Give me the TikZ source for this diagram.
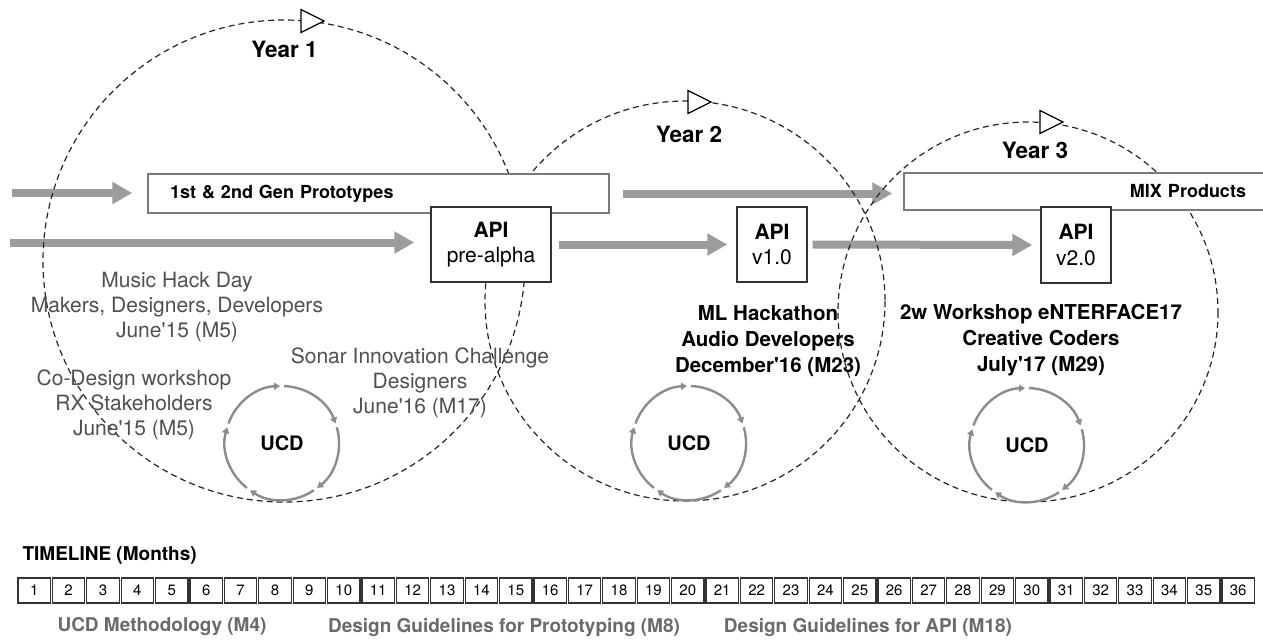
\documentclass[tikz,border=0pt]{standalone}
\usepackage{fontspec}
\setmainfont{TeX Gyre Heros}
\usetikzlibrary{arrows.meta}
\definecolor{arrowgray}{HTML}{9C9C9C}
\definecolor{ringgray}{HTML}{8C8C8C}
\definecolor{txtgray}{HTML}{505050}
\definecolor{lblgray}{HTML}{6A6A6A}
\definecolor{boxgray}{HTML}{7A7A7A}
\tikzset{
  dcirc/.style={draw=black!85, line width=1.2pt, dash pattern=on 6pt off 4pt},
  bigarrow/.style={draw=arrowgray, line width=8pt, -{Triangle[length=20pt,width=21pt]}},
  probox/.style={draw=boxgray, fill=white, line width=1.3pt, inner ysep=0pt, minimum height=39pt, font=\bfseries\fontsize{18}{21}\selectfont},
  apibox/.style={draw=black!80, fill=white, line width=1.4pt, align=center, inner sep=0pt, minimum height=75pt, font=\fontsize{21}{25.5}\selectfont},
  tbox/.style={draw=black!80, line width=1.2pt, minimum width=32.4pt, minimum height=25pt, inner sep=0pt, font=\fontsize{15}{18}\selectfont},
  yearlbl/.style={font=\bfseries\fontsize{22.5}{26}\selectfont},
  eventgray/.style={text=txtgray, align=center, font=\fontsize{21}{25}\selectfont},
  eventbold/.style={align=center, font=\bfseries\fontsize{20.5}{26}\selectfont},
  deliv/.style={text=lblgray, font=\bfseries\fontsize{19}{22}\selectfont},
  ucdtext/.style={font=\bfseries\fontsize{20}{24}\selectfont},
  ucdarc/.style={draw=ringgray, line width=2.4pt, -{Triangle[length=6pt,width=7pt]}},
  cyclehead/.pic={\draw[fill=white, line width=1.2pt] (0,-11.5) -- (23,0) -- (0,11.5) -- cycle;}
}
\begin{document}
\begin{tikzpicture}[x=1pt,y=-1pt]
\useasboundingbox (0,0) rectangle (1263,641);
\clip (0,0) rectangle (1263,641);
\fill[white] (0,0) rectangle (1263,641);

\coordinate (a1s) at (12,193);
\coordinate (a2s) at (10,242.5);

% invisible placeholders so arrows can be drawn beneath circles and boxes
\node[probox, text width=417pt, align=left, inner xsep=22pt, draw=none, fill=none] (gen) at (378.5,193.5) {\phantom{X}};
\node[apibox, minimum width=120pt, draw=none, fill=none] (api1) at (491,244.5) {\phantom{X}};
\node[apibox, minimum width=70pt, draw=none, fill=none] (api2) at (772,244.5) {\phantom{X}};
\node[apibox, minimum width=70pt, minimum height=76pt, draw=none, fill=none] (api3) at (1076,245) {\phantom{X}};
\node[probox, text width=313pt, align=right, inner xsep=29pt, minimum height=37pt, draw=none, fill=none] (mix) at (1089.5,191.5) {\phantom{X}};

\draw[bigarrow, shorten >=15pt] (a1s) -- (a1s -| gen.west);
\draw[bigarrow, shorten >=16pt] (a2s) -- (a2s -| api1.west);
\draw[bigarrow, shorten <=7pt, shorten >=9pt] (api1.east) -- (api2.west);
\draw[bigarrow, shorten <=5pt, shorten >=8pt] (api2.east) -- (api3.west);
\draw[bigarrow, shorten <=13pt, shorten >=11pt] (gen.east) -- (gen.east -| mix.west);

% year cycles
\draw[dcirc] (284,261) circle[radius=241];
\draw[dcirc] (685,301) circle[radius=200];
\draw[dcirc] (1028,312) circle[radius=190];
\pic at (301,21) {cyclehead};
\pic at (688,102) {cyclehead};
\pic at (1040,122) {cyclehead};

\node[yearlbl] (y1) at (284.5,49) {Year 1};
\node[yearlbl] (y2) at (689,134) {Year 2};
\node[yearlbl] (y3) at (1035,150) {Year 3};

% real boxes
\node[probox, text width=417pt, align=left, inner xsep=22pt] at (gen.center) {1st \& 2nd Gen Prototypes};
\node[probox, text width=313pt, align=right, inner xsep=29pt, minimum height=37pt] at (mix.center) {MIX Products};
\node[apibox, minimum width=120pt] at (api1.center) {\textbf{API}\\pre-alpha};
\node[apibox, minimum width=70pt] at (api2.center) {\textbf{API}\\v1.0};
\node[apibox, minimum width=70pt, minimum height=76pt] at (api3.center) {\textbf{API}\\v2.0};

% events
\node[eventgray] (mhd) at (177,307) {Music Hack Day\\Makers, Designers, Developers\\June\textquotesingle15 (M5)};
\node[eventgray] (cod) at (134,405) {Co-Design workshop\\RX Stakeholders\\June\textquotesingle15 (M5)};
\node[eventgray] (son) at (420,383) {Sonar Innovation Challenge\\Designers\\June\textquotesingle16 (M17)};
\node[eventbold] (mlh) at (768,341) {ML Hackathon\\Audio Developers\\December\textquotesingle16 (M23)};
\node[eventbold] (wsh) at (1041,340) {2w Workshop eNTERFACE17\\Creative Coders\\July\textquotesingle17 (M29)};

% UCD cycles
\node[ucdtext] (u1) at (282,443) {UCD};
\node[ucdtext] (u2) at (689,443) {UCD};
\node[ucdtext] (u3) at (1027,445) {UCD};
\foreach \u in {u1,u2,u3}{
  \foreach \a in {-90,-18,54,126,198}{
    \draw[ucdarc] ([shift={(\a+2:57)}]\u.center) arc[start angle=\a+2, end angle=\a+70, radius=57];
  }
}

% timeline
\node[anchor=west, font=\bfseries\fontsize{19}{22}\selectfont] (tl) at (19,555) {TIMELINE (Months)};
\foreach \i in {1,...,36}{
  \node[tbox] (t\i) at ({34.2+(\i-1)*34.4},590.5) {\i};
}
\node[deliv] (d1) at (162,627) {UCD Methodology (M4)};
\node[deliv] (d2) at (504,627) {Design Guidelines for Prototyping (M8)};
\node[deliv] (d3) at (868,627) {Design Guidelines for API (M18)};
\end{tikzpicture}
\end{document}
